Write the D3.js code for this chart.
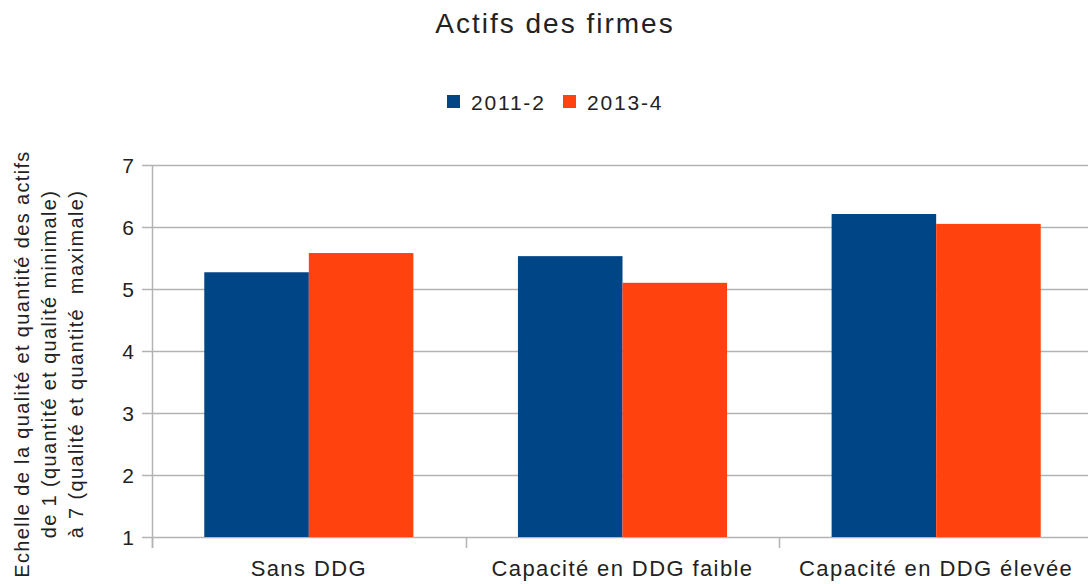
<!DOCTYPE html>
<html>
<head>
<meta charset="utf-8">
<script src="https://cdn.jsdelivr.net/npm/d3@7"></script>
<style>
  body { margin: 0; background: #fff; }
  text { font-family: "Liberation Sans", Arial, sans-serif; fill: #222; }
</style>
</head>
<body>
<div id="chart"></div>
<script>
// data
const categories = ["Sans DDG", "Capacité en DDG faible", "Capacité en DDG élevée"];
const seriesNames = ["2011-2", "2013-4"];
const values2011 = [5.27, 5.53, 6.21];
const values2013 = [5.58, 5.10, 6.05];
const yTicks = [1, 2, 3, 4, 5, 6, 7];
const yTitleLines = [
  "Echelle de la qualité et quantité des actifs",
  "de 1 (quantité et qualité minimale)",
  "à 7 (qualité et quantité  maximale)"
];
const colors = ["#004586", "#ff420e"];

const W = 1088, H = 584;
const plotLeft = 152, plotRight = 1093, plotTop = 165, plotBottom = 537;

const svg = d3.select("#chart").append("svg")
    .attr("width", W)
    .attr("height", H);

const x = d3.scaleBand()
    .domain(categories)
    .range([plotLeft, plotRight])
    .padding(0);

const bw = x.bandwidth();
const xInner = d3.scaleBand()
    .domain(seriesNames)
    .range([bw / 6, bw * 5 / 6]);

const y = d3.scaleLinear()
    .domain([1, 7])
    .range([plotBottom, plotTop]);

// gridlines
svg.append("g")
    .selectAll("line")
    .data(yTicks)
    .enter()
    .append("line")
    .attr("x1", plotLeft - 10)
    .attr("x2", W)
    .attr("y1", d => Math.round(y(d)) + 0.5)
    .attr("y2", d => Math.round(y(d)) + 0.5)
    .style("stroke", "#b3b3b3")
    .style("stroke-width", 1.5);

// bars
const rows = categories.map((c, i) => ({cat: c, vals: [values2011[i], values2013[i]]}));
const groups = svg.append("g")
    .selectAll("g")
    .data(rows)
    .enter()
    .append("g")
    .attr("transform", d => `translate(${x(d.cat)},0)`);

groups.selectAll("rect")
    .data(d => d.vals.map((v, j) => ({name: seriesNames[j], v: v, j: j})))
    .enter()
    .append("rect")
    .attr("x", d => xInner(d.name))
    .attr("width", xInner.bandwidth())
    .attr("y", d => y(d.v))
    .attr("height", d => y(1) - y(d.v))
    .style("fill", d => colors[d.j]);

// y axis line
svg.append("line")
    .attr("x1", plotLeft + 0.5).attr("x2", plotLeft + 0.5)
    .attr("y1", plotTop).attr("y2", plotBottom + 11)
    .style("stroke", "#b3b3b3")
    .style("stroke-width", 1.5);

// category ticks
const bounds = categories.map(c => x(c)).concat([plotRight]);
svg.append("g")
    .selectAll("line")
    .data(bounds)
    .enter()
    .append("line")
    .attr("x1", d => Math.round(d) + 0.5)
    .attr("x2", d => Math.round(d) + 0.5)
    .attr("y1", plotBottom)
    .attr("y2", plotBottom + 11)
    .style("stroke", "#b3b3b3")
    .style("stroke-width", 1.5);

// y tick labels
svg.append("g")
    .selectAll("text")
    .data(yTicks)
    .enter()
    .append("text")
    .attr("x", 134)
    .attr("y", d => y(d))
    .attr("dy", "0.36em")
    .attr("text-anchor", "end")
    .style("font-size", "21px")
    .text(d => d);

// category labels
svg.append("g")
    .selectAll("text")
    .data(categories)
    .enter()
    .append("text")
    .attr("x", d => x(d) + bw / 2)
    .attr("y", 576)
    .attr("text-anchor", "middle")
    .style("font-size", "22px")
    .style("letter-spacing", "1.4px")
    .text(d => d);

// y title
const yTitle = svg.append("text")
    .attr("transform", "translate(22,364) rotate(-90)")
    .attr("text-anchor", "middle")
    .style("font-size", "20px")
    .style("letter-spacing", "1.35px");
yTitle.selectAll("tspan")
    .data(yTitleLines)
    .enter()
    .append("tspan")
    .attr("x", 0)
    .attr("y", (d, i) => i * 27 + 7)
    .style("white-space", "pre")
    .text(d => d);

// title
svg.append("text")
    .attr("x", 555)
    .attr("y", 33)
    .attr("text-anchor", "middle")
    .style("font-size", "28px")
    .style("letter-spacing", "2px")
    .text("Actifs des firmes");

// legend
const legendX = [447, 563];
const legend = svg.append("g")
    .selectAll("g")
    .data(seriesNames)
    .enter()
    .append("g")
    .attr("transform", (d, i) => `translate(${legendX[i]},95)`);

legend.append("rect")
    .attr("width", 13)
    .attr("height", 13)
    .style("fill", (d, i) => colors[i]);

legend.append("text")
    .attr("x", 24)
    .attr("y", 15)
    .style("font-size", "21px")
    .style("letter-spacing", "1.8px")
    .text(d => d);
</script>
</body>
</html>
